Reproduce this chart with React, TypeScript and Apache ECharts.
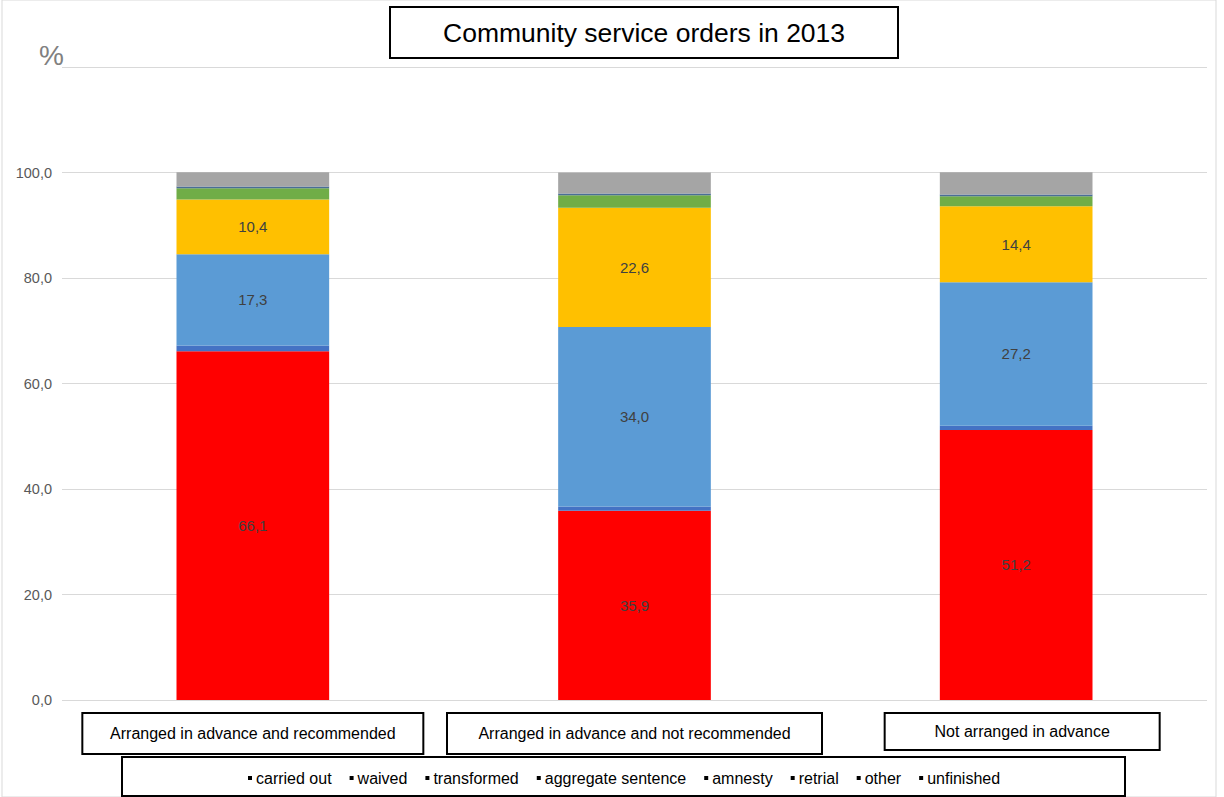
import React, { useEffect, useRef } from "react";
import * as echarts from "echarts";

const categories = [
  "Arranged in advance and recommended",
  "Arranged in advance and not recommended",
  "Not arranged in advance",
];
const seriesNames = [
  "carried out",
  "waived",
  "transformed",
  "aggregate sentence",
  "amnesty",
  "retrial",
  "other",
  "unfinished",
];
const carriedOut = [66.1, 35.9, 51.2];
const waived = [1.1, 0.8, 0.8];
const transformed = [17.3, 34.0, 27.2];
const aggregateSentence = [10.4, 22.6, 14.4];
const amnesty = [2.1, 2.4, 1.9];
const retrial = [0.3, 0.25, 0.3];
const other = [0.05, 0.05, 0.05];
const unfinished = [2.7, 4.0, 4.2];
const yTicks = [0, 20, 40, 60, 80, 100, 120];

const seriesValues = [carriedOut, waived, transformed, aggregateSentence, amnesty, retrial, other, unfinished];
const seriesColors = ["#FF0000", "#4472C4", "#5B9BD5", "#FFC000", "#70AD47", "#4A6E96", "#264478", "#A5A5A5"];
const labelled = [true, false, true, true, false, false, false, false];

const fmt = (v: number) => v.toFixed(1).replace(".", ",");
const FONT = "Liberation Sans, Arial, sans-serif";

export default function App() {
  const ref = useRef<HTMLDivElement>(null);
  useEffect(() => {
    document.body.style.margin = "0";
    const chart = echarts.init(ref.current!, undefined, { renderer: "svg" });
    const boxWidths = [341, 375, 275];
    const boxHeights = [41, 41, 37];
    const rich: any = { s: { width: 12 } };
    boxWidths.forEach((w, i) => {
      rich["b" + i] = {
        width: w,
        height: boxHeights[i],
        lineHeight: boxHeights[i],
        borderColor: "#000",
        borderWidth: 2,
        align: "center",
        fontSize: 16,
        color: "#000",
        fontFamily: FONT,
      };
    });
    chart.setOption({
      animation: false,
      backgroundColor: "#fff",
      textStyle: { fontFamily: FONT },
      title: {
        text: "Community service orders in 2013",
        left: 390,
        top: 7,
        padding: [12, 53, 12, 53],
        borderColor: "#000",
        borderWidth: 2,
        textStyle: { fontSize: 26.5, fontWeight: "normal", color: "#000", fontFamily: FONT },
      },
      grid: { left: 62, right: 17, top: 67, bottom: 97, containLabel: false },
      legend: {
        data: seriesNames,
        top: 765,
        left: 243,
        icon: "rect",
        itemWidth: 4,
        itemHeight: 4,
        itemGap: 18,
        itemStyle: { color: "#000", borderWidth: 0 },
        textStyle: { fontSize: 16, color: "#000", padding: [0, 0, 0, -1] },
        selectedMode: false,
      },
      xAxis: {
        type: "category",
        data: categories,
        axisLine: { show: false },
        axisTick: { show: false },
        axisLabel: {
          margin: 13,
          interval: 0,
          formatter: (v: string, i: number) => (i === 2 ? `{s|}{b${i}|${v}}` : `{b${i}|${v}}`),
          rich,
        },
      },
      yAxis: {
        type: "value",
        min: yTicks[0],
        max: yTicks[yTicks.length - 1],
        interval: 20,
        axisLine: { show: false },
        axisTick: { show: false },
        splitLine: { lineStyle: { color: "#D9D9D9", width: 1 } },
        axisLabel: {
          margin: 10,
          fontSize: 14.5,
          color: "#595959",
          formatter: (v: number) => (v >= 120 ? "" : fmt(v)),
        },
      },
      series: seriesNames.map((name, i) => ({
        name,
        type: "bar",
        stack: "total",
        barWidth: "40%",
        data: seriesValues[i],
        itemStyle: { color: seriesColors[i] },
        label: {
          show: labelled[i],
          position: "inside",
          fontSize: 15,
          color: "#404040",
          formatter: (p: any) => fmt(p.value),
        },
      })),
      graphic: [
        {
          type: "rect",
          shape: { x: 2, y: 0, width: 1214, height: 797 },
          style: { fill: "none", stroke: "#D9D9D9", lineWidth: 1 },
          silent: true,
        },
        {
          type: "rect",
          shape: { x: 122, y: 757, width: 1003, height: 39 },
          style: { fill: "none", stroke: "#000", lineWidth: 2 },
          silent: true,
        },
        {
          type: "rect",
          shape: { x: 30, y: 40, width: 36, height: 30 },
          style: { fill: "#fff" },
          silent: true,
        },
        {
          type: "text",
          x: 39,
          y: 41,
          style: { text: "%", fontSize: 28, fill: "#808080", fontFamily: FONT },
          silent: true,
        },
      ],
    });
    return () => chart.dispose();
  }, []);
  return <div ref={ref} style={{ width: 1224, height: 797 }} />;
}
